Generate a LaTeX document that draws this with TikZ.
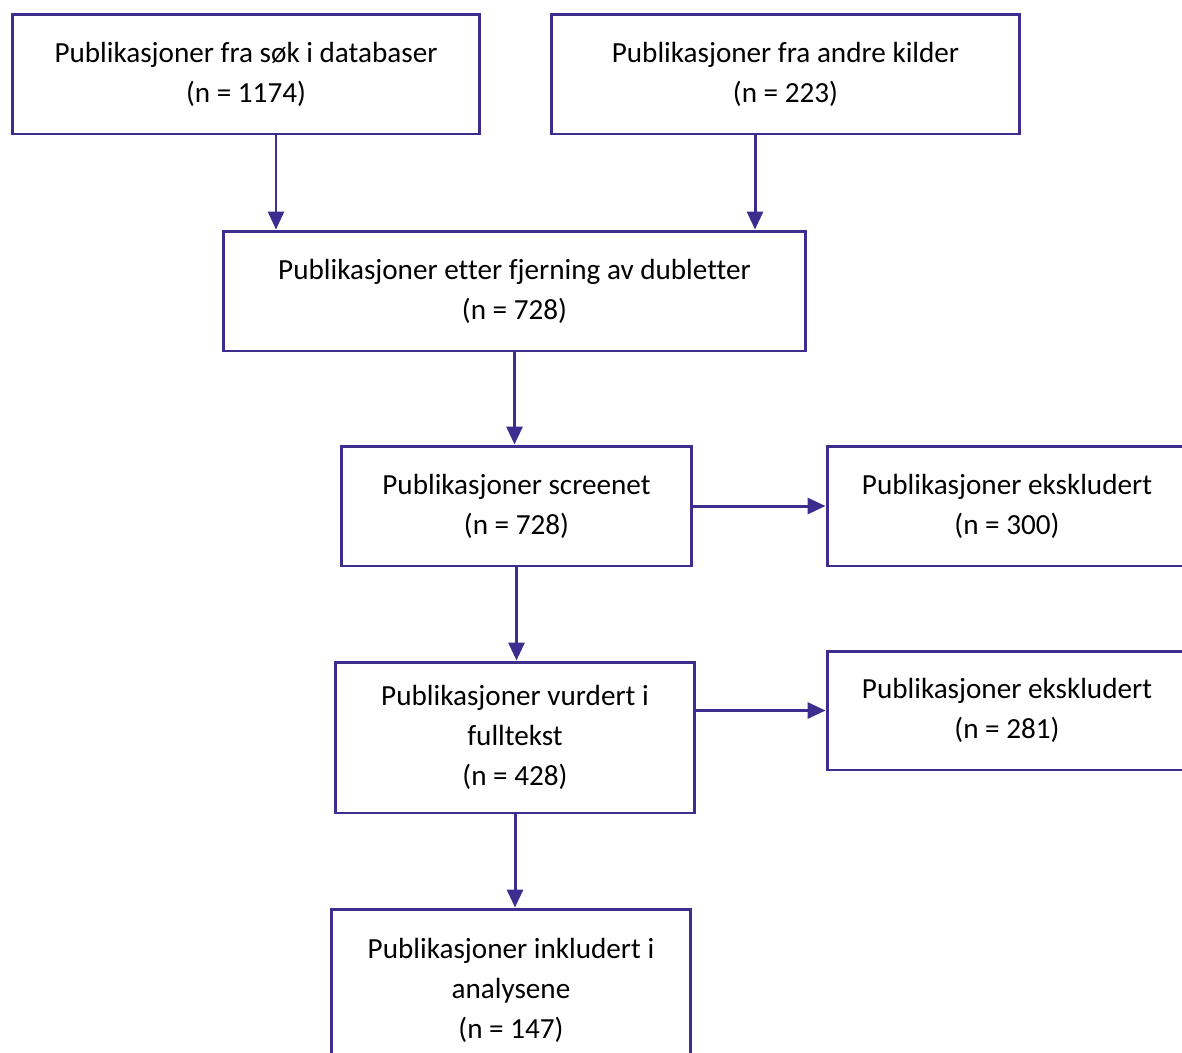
\documentclass[tikz,border=0pt]{standalone}
\usepackage{fontspec}
\setmainfont{Carlito}[Ligatures=NoCommon]
\usetikzlibrary{arrows.meta}
\definecolor{lilla}{RGB}{61,45,143}
\begin{document}
\begin{tikzpicture}[x=0.02cm,y=-0.02cm]

	%DEFINISJONER
	\tikzstyle{every node}=[font=\fontsize{16.6}{22.7}\selectfont]
	\tikzstyle{boks} = [draw=lilla, align=center, line width=1.7pt, fill=white, minimum width=7.2cm, minimum height=2.4cm]
	\tikzstyle{flecha} = [-{Triangle[length=0.36cm,width=0.32cm]}, line width=1.7pt, draw=lilla, fill=lilla]

	\useasboundingbox (0,0) rectangle (1182,1052);
	\clip (0,0) rectangle (1182,1052);

	%BOKSER
	\draw(246,74) node[boks, minimum width=9.36cm](1){Publikasjoner fra søk i databaser\\(n = 1174)};
	\draw(785.5,74) node[boks, minimum width=9.38cm](2){Publikasjoner fra andre kilder\\(n = 223)};
	\draw(514.5,291) node[boks, minimum width=11.66cm](3){Publikasjoner etter fjerning av dubletter\\(n = 728)};
	\draw(516.5,506) node[boks, minimum width=7.02cm](4){Publikasjoner screenet\\(n = 728)};
	\draw(1007,506) node[boks](5){Publikasjoner ekskludert\\(n = 300)};
	\draw(515,737.5) node[boks, minimum height=3.02cm](6){Publikasjoner vurdert i\\fulltekst\\(n = 428)};
	\draw(1007,710.5) node[boks, minimum height=2.38cm](7){Publikasjoner ekskludert\\(n = 281)};
	\draw(511,990) node[boks, minimum height=3.24cm](8){Publikasjoner inkludert i\\analysene\\(n = 147)};

	%PILER
	\draw [flecha] ([xshift=0.6cm]1.south) -- ([xshift=0.6cm]1.south |- 3.north);
	\draw [flecha] ([xshift=-0.61cm]2.south) -- ([xshift=-0.61cm]2.south |- 3.north);
	\draw [flecha] (3.south) -- (3.south |- 4.north);
	\draw [flecha] (4.east) -- (5.west);
	\draw [flecha] (4.south) -- (4.south |- 6.north);
	\draw [flecha] (6.east |- 7.west) -- (7.west);	%TIL EKSKLUDERT
	\draw [flecha] (6.south) -- (6.south |- 8.north);
\end{tikzpicture}
\end{document}
